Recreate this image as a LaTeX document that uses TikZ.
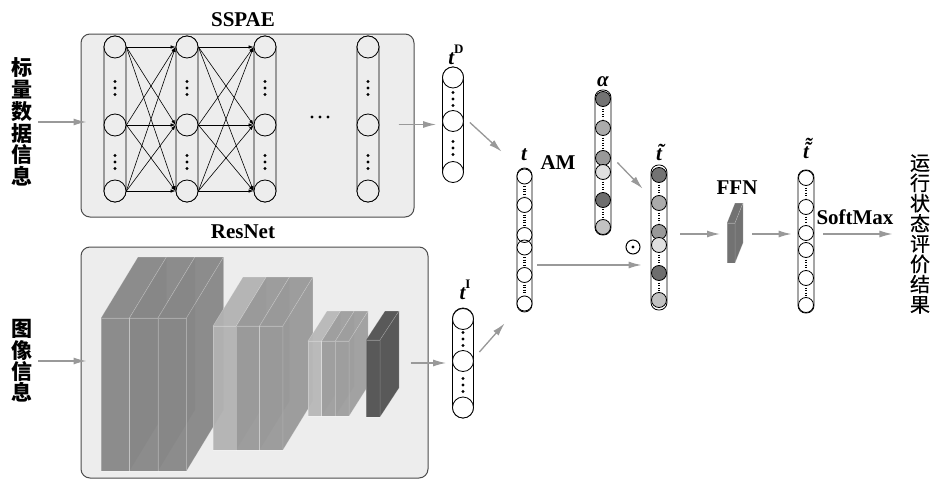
\documentclass[tikz,border=0pt]{standalone}
\usepackage{fontspec}
\setmainfont{Liberation Serif}
\newfontfamily\cjk{Noto Sans CJK SC}
\usetikzlibrary{arrows.meta}
\tikzset{slabface/.style={fill=#1,draw=white,draw opacity=.25,line width=.5pt,fill opacity=.95}}
\newcommand{\tridots}[2]{\fill (#1,#2-6.5) circle (1.6) (#1,#2) circle (1.6) (#1,#2+6.5) circle (1.6);}
\newcommand{\slab}[7]{%
\filldraw[slabface=#7] (#1,#2) rectangle ++(#3,#4);
\filldraw[slabface=#7] (#1,#2) -- ++(#5,-#6) -- ++(#3,0) -- ++(-#5,#6) -- cycle;
\filldraw[slabface=#7] (#1+#3,#2) -- ++(#5,-#6) -- ++(0,#4) -- ++(-#5,#6) -- cycle;}
\newcommand{\tildet}{\ooalign{t\cr\hidewidth\kern.15em\raisebox{.12em}{\char"02DC}\hidewidth\cr}}
\newcommand{\ttildet}{\ooalign{t\cr\hidewidth\kern.15em\raisebox{.1em}{\char"02DC}\hidewidth\cr\hidewidth\kern.2em\raisebox{.32em}{\char"02DC}\hidewidth\cr}}
\newcommand{\supr}[1]{\raisebox{.5em}{\fontsize{13}{13}\selectfont\upshape #1}}

\begin{document}
\begin{tikzpicture}[x=1pt,y=-1pt,
  arr/.style={-{Latex[length=13pt,width=7pt]},draw=black!40,fill=black!40,line width=1.3pt},
  link/.style={-{Latex[length=5pt,width=3.5pt]},line width=.6pt},
  unitcol/.style={draw,line width=.8pt,rounded corners=11pt,minimum width=22pt,minimum height=166pt,inner sep=0pt},
  unit/.style={circle,draw,line width=.8pt,minimum size=22pt,inner sep=0pt,fill=black!7},
  capsule/.style={draw,line width=.8pt,rounded corners=7.5pt,minimum width=16pt,inner sep=0pt,fill=white},
  tick/.style={line width=2.2pt,dash pattern=on 1.3pt off 1.2pt},
  title/.style={font=\bfseries\fontsize{21}{21}\selectfont},
  var/.style={font=\bfseries\itshape\fontsize{21}{21}\selectfont},
  panel/.style={draw=black!70,line width=1pt,fill=black!7,rounded corners=9pt,inner sep=0pt}]
\useasboundingbox (0,0) rectangle (930,479);
\fill[white] (0,0) rectangle (930,479);

\node[panel,minimum width=333pt,minimum height=183pt] (sspae) at (247.5,125.5) {};
\node[title] (sspaet) at (243,20) {SSPAE};
\node[unitcol] (c1) at (115,119) {};
\node[unitcol] (c2) at (187,119) {};
\node[unitcol] (c3) at (265,119) {};
\node[unitcol] (c4) at (368,119) {};
\node[unit] (a1) at (115,47) {};
\node[unit] (a2) at (115,125) {};
\node[unit] (a3) at (115,191) {};
\node[unit] (b1) at (187,47) {};
\node[unit] (b2) at (187,125) {};
\node[unit] (b3) at (187,191) {};
\node[unit] (d1) at (265,47) {};
\node[unit] (d2) at (265,125) {};
\node[unit] (d3) at (265,191) {};
\node[unit] (e1) at (368,47) {};
\node[unit] (e2) at (368,125) {};
\node[unit] (e3) at (368,191) {};
\tridots{115}{88} \tridots{115}{162}
\tridots{187}{88} \tridots{187}{162}
\tridots{265}{88} \tridots{265}{162}
\tridots{368}{88} \tridots{368}{162}
\fill (312,117) circle (1.7) (320,117) circle (1.7) (328,117) circle (1.7);
\draw[link] (a1.east) -- (b1.west);
\draw[link] (a1.east) -- (b2.west);
\draw[link] (a1.east) -- (b3.west);
\draw[link] (a2.east) -- (b1.west);
\draw[link] (a2.east) -- (b2.west);
\draw[link] (a2.east) -- (b3.west);
\draw[link] (a3.east) -- (b1.west);
\draw[link] (a3.east) -- (b2.west);
\draw[link] (a3.east) -- (b3.west);
\draw[link] (b1.east) -- (d1.west);
\draw[link] (b1.east) -- (d2.west);
\draw[link] (b1.east) -- (d3.west);
\draw[link] (b2.east) -- (d1.west);
\draw[link] (b2.east) -- (d2.west);
\draw[link] (b2.east) -- (d3.west);
\draw[link] (b3.east) -- (d1.west);
\draw[link] (b3.east) -- (d2.west);
\draw[link] (b3.east) -- (d3.west);

\node[panel,minimum width=347pt,minimum height=231pt] (resnet) at (254.5,362.5) {};
\node[title] (resnett) at (243,232) {ResNet};
\slab{101}{318}{28.5}{153}{37}{61}{black!47}
\slab{129.5}{318}{28.5}{153}{37}{61}{black!47}
\slab{158}{318}{28.5}{153}{37}{61}{black!47}
\slab{213}{326}{23.3}{124}{30}{49}{black!30}
\slab{236.3}{326}{23.3}{124}{30}{49}{black!40}
\slab{259.6}{326}{23.3}{124}{30}{49}{black!40}
\slab{308}{341}{13.7}{75}{19}{30}{black!28}
\slab{321.7}{341}{13.7}{75}{19}{30}{black!38}
\slab{335.4}{341}{13.7}{75}{19}{30}{black!38}
\slab{366}{340}{14}{77}{19}{29}{black!68}

\node[font=\cjk\bfseries\fontsize{21}{21.7}\selectfont,align=center] (in1) at (22,122) {标\\量\\数\\据\\信\\息};
\node[font=\cjk\bfseries\fontsize{21}{21.3}\selectfont,align=center] (in2) at (22,361) {图\\像\\信\\息};
\draw[arr] ([xshift=2pt]in1.east) -- ([xshift=6pt]sspae.west |- in1.east);
\draw[arr] ([xshift=2pt]in2.east) -- ([xshift=6pt]resnet.west |- in2.east);

\node[capsule,minimum width=21pt,rounded corners=10.5pt,minimum height=115pt] (tD) at (453,124.5) {};
\filldraw[fill=white,line width=.8pt] (453,77.5) circle (10.5) (453,121) circle (10.5) (453,172) circle (10.5);
\tridots{453}{99} \tridots{453}{148}
\node[var] (tDl) at (456,55) {t\supr{D}};
\node[capsule,minimum width=21pt,rounded corners=10.5pt,minimum height=110pt] (tI) at (463,363) {};
\filldraw[fill=white,line width=.8pt] (463,319) circle (10.5) (463,361) circle (10.5) (463,407.5) circle (10.5);
\tridots{463}{339} \tridots{463}{385}
\node[var] (tIl) at (465,290) {t\supr{I}};
\draw[arr] ([xshift=-16pt]sspae.east |- tD.west) -- ([xshift=-6pt]tD.west);
\draw[arr] ([xshift=-18pt]resnet.east |- tI.west) -- ([xshift=-6pt]tI.west);

\node[capsule,minimum width=15pt,minimum height=144pt] (tc) at (524.5,240) {};
\filldraw[fill=white,line width=.8pt] (524.5,176.5) circle (7.5) (524.5,205) circle (7.5) (524.5,235) circle (7.5) (524.5,247.5) circle (7.5) (524.5,275) circle (7.5) (524.5,303.5) circle (7.5);
\draw[tick] (524.5,186) -- (524.5,196) (524.5,214.5) -- (524.5,226) (524.5,257) -- (524.5,266) (524.5,284.5) -- (524.5,294.5);
\node[var] (tcl) at (524,155) {t};
\node[title] (am) at (558,163) {AM};
\draw[arr] ([xshift=6pt,yshift=2pt]tD.east) -- ([xshift=-15pt,yshift=16pt]tc.north west);
\draw[arr] ([xshift=5.5pt,yshift=11pt]tI.east) -- ([xshift=-12pt,yshift=-11pt]tc.south west);

\node[capsule,minimum height=145pt] (al) at (603,162.5) {};
\filldraw[fill=black!55,line width=.8pt] (603,99) circle (7.5);
\filldraw[fill=black!33,line width=.8pt] (603,128) circle (7.5);
\filldraw[fill=black!40,line width=.8pt] (603,158) circle (7.5);
\filldraw[fill=black!12,line width=.8pt] (603,172) circle (7.5);
\filldraw[fill=black!57,line width=.8pt] (603,200) circle (7.5);
\filldraw[fill=black!24,line width=.8pt] (603,227) circle (7.5);
\draw[tick] (603,108.5) -- (603,118.5) (603,137.5) -- (603,148.5) (603,181.5) -- (603,190.5) (603,209) -- (603,218);
\node[var] (all) at (603,82) {α};

\node[capsule,minimum height=145pt] (tl) at (659,237.5) {};
\filldraw[fill=black!55,line width=.8pt] (659,175) circle (7.5);
\filldraw[fill=black!33,line width=.8pt] (659,203) circle (7.5);
\filldraw[fill=black!40,line width=.8pt] (659,232) circle (7.5);
\filldraw[fill=black!12,line width=.8pt] (659,245) circle (7.5);
\filldraw[fill=black!57,line width=.8pt] (659,273) circle (7.5);
\filldraw[fill=black!24,line width=.8pt] (659,300) circle (7.5);
\draw[tick] (659,184.5) -- (659,193.5) (659,212.5) -- (659,222.5) (659,254.5) -- (659,263.5) (659,282.5) -- (659,290.5);
\node[var] (tll) at (659,155) {\tildet};
\node[circle,draw,line width=1pt,minimum size=14pt,inner sep=0pt] (odot) at (633,247) {};
\fill (odot) circle (1.6);
\draw[arr] ([xshift=6pt]al.east) -- ([xshift=-8pt,yshift=-24pt]tl.north west);
\draw[arr] ([xshift=5pt,yshift=-25pt]tc.east) -- ([xshift=-9pt,yshift=-27.5pt]tl.west);

\coordinate (ffnin) at (720,234);
\coordinate (ffnout) at (752,234);
\slab{727}{223}{8}{40}{8}{20}{black!58}
\node[title] (ffn) at (737,188) {FFN};
\draw[arr] ([xshift=13pt]tl.east |- ffnin) -- (ffnin);

\node[capsule,minimum height=143pt] (tt) at (806,241.5) {};
\filldraw[fill=white,line width=.8pt] (806,178) circle (7.5) (806,207) circle (7.5) (806,233) circle (7.5) (806,250) circle (7.5) (806,278) circle (7.5) (806,305) circle (7.5);
\draw[tick] (806,187.5) -- (806,197.5) (806,216.5) -- (806,223.5) (806,259.5) -- (806,268.5) (806,287.5) -- (806,295.5);
\node[var] (ttl) at (806,153) {\ttildet};
\draw[arr] (ffnout) -- ([xshift=-6pt]tt.west |- ffnout);

\node[title] (soft) at (855,217) {SoftMax};
\node[font=\cjk\fontsize{20}{20.25}\selectfont\addfontfeature{FakeBold=.6},align=center] (out) at (920,234) {运\\行\\状\\态\\评\\价\\结\\果};
\draw[arr] ([xshift=9pt]tt.east |- ffnout) -- ([xshift=-14pt]out.west |- ffnout);
\end{tikzpicture}
\end{document}
